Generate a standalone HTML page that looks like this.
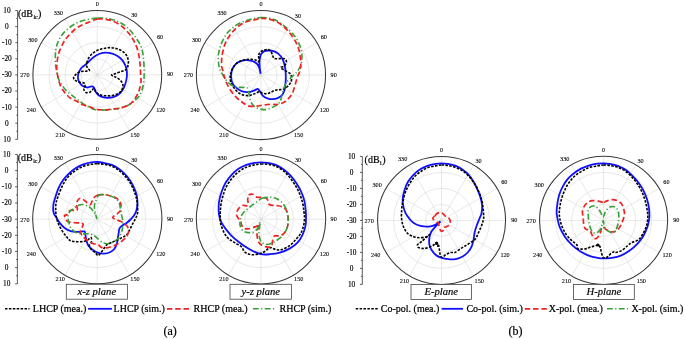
<!DOCTYPE html>
<html><head><meta charset="utf-8"><style>
html,body{margin:0;padding:0;background:#fff;width:685px;height:339px;overflow:hidden;font-family:"Liberation Serif", serif;}
svg{display:block;will-change:transform}
</style></head><body>
<svg width="685" height="339" viewBox="0 0 685 339"><rect width="685" height="339" fill="#fff"/><g stroke="#d9d9d9" stroke-width="0.6" fill="none"><line x1="97.30" y1="74.90" x2="97.30" y2="10.50"/><line x1="97.30" y1="74.90" x2="129.50" y2="19.13"/><line x1="97.30" y1="74.90" x2="153.07" y2="42.70"/><line x1="97.30" y1="74.90" x2="161.70" y2="74.90"/><line x1="97.30" y1="74.90" x2="153.07" y2="107.10"/><line x1="97.30" y1="74.90" x2="129.50" y2="130.67"/><line x1="97.30" y1="74.90" x2="97.30" y2="139.30"/><line x1="97.30" y1="74.90" x2="65.10" y2="130.67"/><line x1="97.30" y1="74.90" x2="41.53" y2="107.10"/><line x1="97.30" y1="74.90" x2="32.90" y2="74.90"/><line x1="97.30" y1="74.90" x2="41.53" y2="42.70"/><line x1="97.30" y1="74.90" x2="65.10" y2="19.13"/><circle cx="97.30" cy="74.90" r="16.10"/><circle cx="97.30" cy="74.90" r="32.20"/><circle cx="97.30" cy="74.90" r="48.30"/></g><g stroke="#d9d9d9" stroke-width="0.6" fill="none"><line x1="260.95" y1="75.00" x2="260.95" y2="10.40"/><line x1="260.95" y1="75.00" x2="293.25" y2="19.05"/><line x1="260.95" y1="75.00" x2="316.90" y2="42.70"/><line x1="260.95" y1="75.00" x2="325.55" y2="75.00"/><line x1="260.95" y1="75.00" x2="316.90" y2="107.30"/><line x1="260.95" y1="75.00" x2="293.25" y2="130.95"/><line x1="260.95" y1="75.00" x2="260.95" y2="139.60"/><line x1="260.95" y1="75.00" x2="228.65" y2="130.95"/><line x1="260.95" y1="75.00" x2="205.00" y2="107.30"/><line x1="260.95" y1="75.00" x2="196.35" y2="75.00"/><line x1="260.95" y1="75.00" x2="205.00" y2="42.70"/><line x1="260.95" y1="75.00" x2="228.65" y2="19.05"/><circle cx="260.95" cy="75.00" r="16.15"/><circle cx="260.95" cy="75.00" r="32.30"/><circle cx="260.95" cy="75.00" r="48.45"/></g><g stroke="#d9d9d9" stroke-width="0.6" fill="none"><line x1="97.30" y1="219.15" x2="97.30" y2="154.50"/><line x1="97.30" y1="219.15" x2="129.62" y2="163.16"/><line x1="97.30" y1="219.15" x2="153.29" y2="186.82"/><line x1="97.30" y1="219.15" x2="161.95" y2="219.15"/><line x1="97.30" y1="219.15" x2="153.29" y2="251.47"/><line x1="97.30" y1="219.15" x2="129.62" y2="275.14"/><line x1="97.30" y1="219.15" x2="97.30" y2="283.80"/><line x1="97.30" y1="219.15" x2="64.97" y2="275.14"/><line x1="97.30" y1="219.15" x2="41.31" y2="251.48"/><line x1="97.30" y1="219.15" x2="32.65" y2="219.15"/><line x1="97.30" y1="219.15" x2="41.31" y2="186.82"/><line x1="97.30" y1="219.15" x2="64.97" y2="163.16"/><circle cx="97.30" cy="219.15" r="16.16"/><circle cx="97.30" cy="219.15" r="32.33"/><circle cx="97.30" cy="219.15" r="48.49"/></g><g stroke="#d9d9d9" stroke-width="0.6" fill="none"><line x1="261.00" y1="219.20" x2="261.00" y2="154.50"/><line x1="261.00" y1="219.20" x2="293.35" y2="163.17"/><line x1="261.00" y1="219.20" x2="317.03" y2="186.85"/><line x1="261.00" y1="219.20" x2="325.70" y2="219.20"/><line x1="261.00" y1="219.20" x2="317.03" y2="251.55"/><line x1="261.00" y1="219.20" x2="293.35" y2="275.23"/><line x1="261.00" y1="219.20" x2="261.00" y2="283.90"/><line x1="261.00" y1="219.20" x2="228.65" y2="275.23"/><line x1="261.00" y1="219.20" x2="204.97" y2="251.55"/><line x1="261.00" y1="219.20" x2="196.30" y2="219.20"/><line x1="261.00" y1="219.20" x2="204.97" y2="186.85"/><line x1="261.00" y1="219.20" x2="228.65" y2="163.17"/><circle cx="261.00" cy="219.20" r="16.18"/><circle cx="261.00" cy="219.20" r="32.35"/><circle cx="261.00" cy="219.20" r="48.53"/></g><g stroke="#d9d9d9" stroke-width="0.6" fill="none"><line x1="441.55" y1="220.40" x2="441.55" y2="156.40"/><line x1="441.55" y1="220.40" x2="473.55" y2="164.97"/><line x1="441.55" y1="220.40" x2="496.98" y2="188.40"/><line x1="441.55" y1="220.40" x2="505.55" y2="220.40"/><line x1="441.55" y1="220.40" x2="496.98" y2="252.40"/><line x1="441.55" y1="220.40" x2="473.55" y2="275.83"/><line x1="441.55" y1="220.40" x2="441.55" y2="284.40"/><line x1="441.55" y1="220.40" x2="409.55" y2="275.83"/><line x1="441.55" y1="220.40" x2="386.12" y2="252.40"/><line x1="441.55" y1="220.40" x2="377.55" y2="220.40"/><line x1="441.55" y1="220.40" x2="386.12" y2="188.40"/><line x1="441.55" y1="220.40" x2="409.55" y2="164.97"/><circle cx="441.55" cy="220.40" r="16.00"/><circle cx="441.55" cy="220.40" r="32.00"/><circle cx="441.55" cy="220.40" r="48.00"/></g><g stroke="#d9d9d9" stroke-width="0.6" fill="none"><line x1="603.60" y1="220.40" x2="603.60" y2="156.35"/><line x1="603.60" y1="220.40" x2="635.62" y2="164.93"/><line x1="603.60" y1="220.40" x2="659.07" y2="188.38"/><line x1="603.60" y1="220.40" x2="667.65" y2="220.40"/><line x1="603.60" y1="220.40" x2="659.07" y2="252.42"/><line x1="603.60" y1="220.40" x2="635.62" y2="275.87"/><line x1="603.60" y1="220.40" x2="603.60" y2="284.45"/><line x1="603.60" y1="220.40" x2="571.58" y2="275.87"/><line x1="603.60" y1="220.40" x2="548.13" y2="252.43"/><line x1="603.60" y1="220.40" x2="539.55" y2="220.40"/><line x1="603.60" y1="220.40" x2="548.13" y2="188.38"/><line x1="603.60" y1="220.40" x2="571.58" y2="164.93"/><circle cx="603.60" cy="220.40" r="16.01"/><circle cx="603.60" cy="220.40" r="32.02"/><circle cx="603.60" cy="220.40" r="48.04"/></g><circle cx="97.30" cy="74.90" r="64.40" fill="none" stroke="#383838" stroke-width="1.05"/><g font-family='"Liberation Serif", serif' font-size="6.2" fill="#000" stroke="#000" stroke-width="0.1" text-anchor="middle"><text x="97.30" y="6.25">0</text><text x="134.30" y="17.45">30</text><text x="160.10" y="38.85">60</text><text x="170.00" y="76.45">90</text><text x="160.80" y="111.65">120</text><text x="135.00" y="137.15">150</text><text x="60.20" y="137.15">210</text><text x="31.40" y="111.65">240</text><text x="24.85" y="77.25">270</text><text x="32.90" y="41.55">300</text><text x="58.40" y="15.35">330</text></g><circle cx="260.95" cy="75.00" r="64.60" fill="none" stroke="#383838" stroke-width="1.05"/><g font-family='"Liberation Serif", serif' font-size="6.2" fill="#000" stroke="#000" stroke-width="0.1" text-anchor="middle"><text x="260.95" y="6.35">0</text><text x="297.95" y="17.55">30</text><text x="323.75" y="38.95">60</text><text x="333.65" y="76.55">90</text><text x="324.45" y="111.75">120</text><text x="298.65" y="137.25">150</text><text x="223.85" y="137.25">210</text><text x="195.05" y="111.75">240</text><text x="188.50" y="77.35">270</text><text x="196.55" y="41.65">300</text><text x="222.05" y="15.45">330</text></g><circle cx="97.30" cy="219.15" r="64.65" fill="none" stroke="#383838" stroke-width="1.05"/><g font-family='"Liberation Serif", serif' font-size="6.2" fill="#000" stroke="#000" stroke-width="0.1" text-anchor="middle"><text x="97.30" y="150.50">0</text><text x="134.30" y="161.70">30</text><text x="160.10" y="183.10">60</text><text x="170.00" y="220.70">90</text><text x="160.80" y="255.90">120</text><text x="135.00" y="281.40">150</text><text x="97.30" y="294.40">0</text><text x="60.20" y="281.40">210</text><text x="31.40" y="255.90">240</text><text x="24.85" y="221.50">270</text><text x="32.90" y="185.80">300</text><text x="58.40" y="159.60">330</text></g><circle cx="261.00" cy="219.20" r="64.70" fill="none" stroke="#383838" stroke-width="1.05"/><g font-family='"Liberation Serif", serif' font-size="6.2" fill="#000" stroke="#000" stroke-width="0.1" text-anchor="middle"><text x="261.00" y="150.55">0</text><text x="298.00" y="161.75">30</text><text x="323.80" y="183.15">60</text><text x="333.70" y="220.75">90</text><text x="324.50" y="255.95">120</text><text x="298.70" y="281.45">150</text><text x="261.00" y="294.45">0</text><text x="223.90" y="281.45">210</text><text x="195.10" y="255.95">240</text><text x="188.55" y="221.55">270</text><text x="196.60" y="185.85">300</text><text x="222.10" y="159.65">330</text></g><circle cx="441.55" cy="220.40" r="64.00" fill="none" stroke="#383838" stroke-width="1.05"/><g font-family='"Liberation Serif", serif' font-size="6.2" fill="#000" stroke="#000" stroke-width="0.1" text-anchor="middle"><text x="441.55" y="151.75">0</text><text x="478.55" y="162.95">30</text><text x="504.35" y="184.35">60</text><text x="514.25" y="221.95">90</text><text x="505.05" y="257.15">120</text><text x="479.25" y="282.65">150</text><text x="441.55" y="295.65">0</text><text x="404.45" y="282.65">210</text><text x="375.65" y="257.15">240</text><text x="369.10" y="222.75">270</text><text x="377.15" y="187.05">300</text><text x="402.65" y="160.85">330</text></g><circle cx="603.60" cy="220.40" r="64.05" fill="none" stroke="#383838" stroke-width="1.05"/><g font-family='"Liberation Serif", serif' font-size="6.2" fill="#000" stroke="#000" stroke-width="0.1" text-anchor="middle"><text x="603.60" y="151.75">0</text><text x="640.60" y="162.95">30</text><text x="666.40" y="184.35">60</text><text x="676.30" y="221.95">90</text><text x="667.10" y="257.15">120</text><text x="641.30" y="282.65">150</text><text x="603.60" y="295.65">0</text><text x="566.50" y="282.65">210</text><text x="537.70" y="257.15">240</text><text x="531.15" y="222.75">270</text><text x="539.20" y="187.05">300</text><text x="564.70" y="160.85">330</text></g><path d="M86.81,63.58C88.14,62.40 89.62,60.55 91.24,59.16C92.86,57.77 94.63,56.30 96.55,55.27C98.47,54.23 100.68,53.35 102.74,52.96C104.81,52.58 106.87,52.67 108.94,52.96C111.00,53.26 113.22,53.85 115.13,54.73C117.05,55.62 118.97,56.95 120.44,58.27C121.92,59.60 123.01,61.08 123.98,62.70C124.96,64.32 125.78,66.09 126.28,68.01C126.78,69.93 126.99,72.14 126.99,74.20C126.99,76.27 126.78,78.19 126.28,80.40C125.78,82.61 124.96,85.41 123.98,87.48C123.01,89.54 121.92,91.31 120.44,92.79C118.97,94.26 117.05,95.50 115.13,96.33C113.22,97.15 111.00,97.60 108.94,97.74C106.87,97.89 104.51,97.68 102.74,97.21C100.97,96.74 99.50,95.80 98.32,94.91C97.14,94.03 96.31,92.99 95.66,91.90C95.01,90.81 94.87,89.25 94.42,88.36C93.98,87.48 93.69,86.89 93.01,86.59C92.33,86.30 91.39,86.45 90.35,86.59C89.32,86.74 88.14,87.63 86.81,87.48C85.49,87.33 83.66,86.59 82.39,85.71C81.12,84.82 79.94,83.50 79.20,82.17C78.47,80.84 78.08,79.22 77.96,77.74C77.85,76.27 78.05,74.79 78.50,73.32C78.94,71.84 79.82,70.07 80.62,68.89C81.42,67.71 82.24,67.12 83.27,66.24C84.31,65.35 85.49,64.76 86.81,63.58Z" fill="none" stroke="#1010ff" stroke-width="1.8" stroke-linejoin="round"/><path d="M86.81,62.70C87.20,61.52 87.70,59.75 88.58,58.27C89.47,56.80 90.65,55.18 92.12,53.85C93.60,52.52 95.52,51.19 97.43,50.31C99.35,49.42 101.56,48.98 103.63,48.54C105.69,48.10 107.76,47.65 109.82,47.65C111.89,47.65 113.95,47.95 116.02,48.54C118.08,49.13 120.44,50.01 122.21,51.19C123.98,52.37 125.60,53.85 126.64,55.62C127.67,57.39 128.41,59.60 128.41,61.81C128.41,64.03 127.82,67.27 126.64,68.89C125.46,70.52 123.24,70.75 121.33,71.55C119.41,72.35 116.76,73.08 115.13,73.67C113.51,74.26 111.59,74.56 111.59,75.09C111.59,75.62 113.81,76.12 115.13,76.86C116.46,77.60 118.29,78.33 119.56,79.51C120.83,80.69 122.30,82.32 122.74,83.94C123.19,85.56 122.89,87.71 122.21,89.25C121.53,90.78 120.29,92.11 118.67,93.14C117.05,94.17 114.69,95.00 112.48,95.44C110.27,95.88 107.61,95.94 105.40,95.80C103.19,95.65 100.83,95.29 99.20,94.56C97.58,93.82 96.55,92.40 95.66,91.37C94.78,90.34 94.48,88.57 93.89,88.36C93.30,88.16 92.86,89.45 92.12,90.13C91.39,90.81 90.50,92.05 89.47,92.43C88.44,92.82 86.87,92.96 85.93,92.43C84.99,91.90 83.95,90.37 83.81,89.25C83.66,88.13 84.99,86.74 85.04,85.71C85.10,84.68 85.04,83.64 84.16,83.05C83.27,82.46 81.21,82.61 79.73,82.17C78.26,81.73 76.34,81.14 75.31,80.40C74.28,79.66 73.39,78.78 73.54,77.74C73.69,76.71 75.01,75.24 76.19,74.20C77.37,73.17 79.00,72.05 80.62,71.55C82.24,71.05 84.45,71.40 85.93,71.19C87.40,70.99 89.17,70.84 89.47,70.31C89.76,69.78 88.23,68.83 87.70,68.01C87.17,67.18 86.43,66.24 86.28,65.35C86.14,64.47 86.43,63.88 86.81,62.70Z" fill="none" stroke="#000" stroke-width="1.6" stroke-dasharray="2.5 1.4" stroke-linejoin="round"/><path d="M97.40,18.10C100.12,17.93 102.27,18.03 104.80,18.30C107.33,18.57 110.00,18.97 112.60,19.70C115.20,20.43 118.13,21.57 120.40,22.70C122.67,23.83 124.27,24.88 126.20,26.50C128.13,28.12 130.22,30.28 132.00,32.40C133.78,34.52 135.43,36.93 136.90,39.20C138.37,41.47 139.82,43.73 140.80,46.00C141.78,48.27 142.32,50.37 142.80,52.80C143.28,55.23 143.48,58.00 143.70,60.60C143.92,63.20 144.03,65.83 144.10,68.40C144.17,70.97 144.17,73.77 144.10,76.00C144.03,78.23 144.02,79.53 143.70,81.80C143.38,84.07 143.00,87.17 142.20,89.60C141.40,92.03 140.27,94.45 138.90,96.40C137.53,98.35 135.78,99.83 134.00,101.30C132.22,102.77 130.47,104.07 128.20,105.20C125.93,106.33 123.00,107.40 120.40,108.10C117.80,108.80 115.20,109.08 112.60,109.40C110.00,109.72 107.33,109.90 104.80,110.00C102.27,110.10 99.47,110.22 97.40,110.00C95.33,109.78 94.38,109.50 92.40,108.70C90.42,107.90 88.00,106.73 85.50,105.20C83.00,103.67 79.70,101.17 77.40,99.50C75.10,97.83 73.58,96.72 71.70,95.20C69.82,93.68 67.85,92.28 66.10,90.40C64.35,88.52 62.55,86.07 61.20,83.90C59.85,81.73 58.75,79.57 58.00,77.40C57.25,75.23 57.12,73.07 56.70,70.90C56.28,68.73 55.72,67.08 55.50,64.40C55.28,61.72 55.27,57.70 55.40,54.80C55.53,51.90 55.65,49.60 56.30,47.00C56.95,44.40 58.00,41.63 59.30,39.20C60.60,36.77 62.17,34.52 64.10,32.40C66.03,30.28 68.47,28.22 70.90,26.50C73.33,24.78 75.77,23.30 78.70,22.10C81.63,20.90 85.38,19.97 88.50,19.30C91.62,18.63 94.68,18.27 97.40,18.10Z" fill="none" stroke="#35a035" stroke-width="1.6" stroke-dasharray="5.8 2.4 1.2 2.4" stroke-linejoin="round"/><path d="M97.40,19.00C99.80,18.60 102.27,18.95 104.80,19.30C107.33,19.65 110.00,20.12 112.60,21.10C115.20,22.08 118.13,23.65 120.40,25.20C122.67,26.75 124.42,28.55 126.20,30.40C127.98,32.25 129.63,34.18 131.10,36.30C132.57,38.42 133.87,40.67 135.00,43.10C136.13,45.53 137.17,48.30 137.90,50.90C138.63,53.50 139.02,56.10 139.40,58.70C139.78,61.30 140.00,63.95 140.20,66.50C140.40,69.05 140.47,71.45 140.60,74.00C140.73,76.55 141.20,79.20 141.00,81.80C140.80,84.40 140.08,87.33 139.40,89.60C138.72,91.87 137.97,93.45 136.90,95.40C135.83,97.35 134.45,99.67 133.00,101.30C131.55,102.93 130.30,104.07 128.20,105.20C126.10,106.33 123.00,107.47 120.40,108.10C117.80,108.73 115.20,108.68 112.60,109.00C110.00,109.32 107.33,109.92 104.80,110.00C102.27,110.08 99.15,109.72 97.40,109.50C95.65,109.28 95.63,109.17 94.30,108.70C92.97,108.23 91.35,107.35 89.40,106.70C87.45,106.05 84.70,105.70 82.60,104.80C80.50,103.90 78.82,102.40 76.80,101.30C74.78,100.20 72.22,99.32 70.50,98.20C68.78,97.08 67.65,95.80 66.50,94.60C65.35,93.40 64.62,92.52 63.60,91.00C62.58,89.48 61.33,87.77 60.40,85.50C59.47,83.23 58.62,80.10 58.00,77.40C57.38,74.70 56.83,72.00 56.70,69.30C56.57,66.60 56.85,63.90 57.20,61.20C57.55,58.50 57.80,56.12 58.80,53.10C59.80,50.08 61.67,45.90 63.20,43.10C64.73,40.30 66.07,38.57 68.00,36.30C69.93,34.03 72.37,31.45 74.80,29.50C77.23,27.55 80.00,25.90 82.60,24.60C85.20,23.30 87.93,22.63 90.40,21.70C92.87,20.77 95.00,19.40 97.40,19.00Z" fill="none" stroke="#ee2222" stroke-width="1.7" stroke-dasharray="5.4 2.9" stroke-linejoin="round"/><path d="M260.60,73.80C260.45,72.68 259.87,69.32 259.70,67.10C259.53,64.88 259.40,62.58 259.60,60.50C259.80,58.42 260.18,56.12 260.90,54.60C261.62,53.08 262.62,52.08 263.90,51.40C265.18,50.72 267.00,50.53 268.60,50.50C270.20,50.47 271.85,50.63 273.50,51.20C275.15,51.77 277.00,52.60 278.50,53.90C280.00,55.20 281.47,57.10 282.50,59.00C283.53,60.90 284.18,63.13 284.70,65.30C285.22,67.47 285.42,69.72 285.60,72.00C285.78,74.28 285.85,76.85 285.80,79.00C285.75,81.15 285.53,82.97 285.30,84.90C285.07,86.83 284.93,88.90 284.40,90.60C283.87,92.30 283.23,93.83 282.10,95.10C280.97,96.37 279.20,97.52 277.60,98.20C276.00,98.88 274.22,99.18 272.50,99.20C270.78,99.22 268.90,98.87 267.30,98.30C265.70,97.73 264.13,96.95 262.90,95.80C261.67,94.65 260.77,92.55 259.90,91.40C259.03,90.25 258.68,89.03 257.70,88.90C256.72,88.77 255.60,90.05 254.00,90.60C252.40,91.15 250.18,92.10 248.10,92.20C246.02,92.30 243.58,92.03 241.50,91.20C239.42,90.37 237.15,88.65 235.60,87.20C234.05,85.75 232.93,84.20 232.20,82.50C231.47,80.80 231.30,78.83 231.20,77.00C231.10,75.17 231.27,73.08 231.60,71.50C231.93,69.92 232.47,68.78 233.20,67.50C233.93,66.22 234.87,64.82 236.00,63.80C237.13,62.78 238.47,62.00 240.00,61.40C241.53,60.80 243.47,60.33 245.20,60.20C246.93,60.07 248.80,60.28 250.40,60.60C252.00,60.92 253.58,61.43 254.80,62.10C256.02,62.77 256.93,63.57 257.70,64.60C258.47,65.63 258.92,66.77 259.40,68.30C259.88,69.83 260.40,72.88 260.60,73.80" fill="none" stroke="#1010ff" stroke-width="1.8" stroke-linejoin="round"/><path d="M258.70,55.00C259.05,53.35 260.03,52.40 260.90,51.60C261.77,50.80 262.73,50.55 263.90,50.20C265.07,49.85 266.73,49.32 267.90,49.50C269.07,49.68 270.08,50.22 270.90,51.30C271.72,52.38 272.20,54.78 272.80,56.00C273.40,57.22 273.33,58.17 274.50,58.60C275.67,59.03 278.10,58.57 279.80,58.60C281.50,58.63 283.58,58.17 284.70,58.80C285.82,59.43 286.67,61.15 286.50,62.40C286.33,63.65 284.65,65.43 283.70,66.30C282.75,67.17 280.63,66.93 280.80,67.60C280.97,68.27 283.23,69.37 284.70,70.30C286.17,71.23 288.48,72.17 289.60,73.20C290.72,74.23 291.13,75.17 291.40,76.50C291.67,77.83 291.60,79.80 291.20,81.20C290.80,82.60 290.03,83.70 289.00,84.90C287.97,86.10 286.40,87.62 285.00,88.40C283.60,89.18 282.20,89.30 280.60,89.60C279.00,89.90 277.00,89.78 275.40,90.20C273.80,90.62 272.35,91.53 271.00,92.10C269.65,92.67 268.65,93.40 267.30,93.60C265.95,93.80 264.25,93.60 262.90,93.30C261.55,93.00 260.80,91.63 259.20,91.80C257.60,91.97 255.27,93.67 253.30,94.30C251.33,94.93 249.62,95.72 247.40,95.60C245.18,95.48 242.22,94.87 240.00,93.60C237.78,92.33 235.63,89.93 234.10,88.00C232.57,86.07 231.45,84.00 230.80,82.00C230.15,80.00 230.13,77.63 230.20,76.00C230.27,74.37 230.67,73.73 231.20,72.20C231.73,70.67 232.30,68.43 233.40,66.80C234.50,65.17 236.08,63.53 237.80,62.40C239.52,61.27 241.73,60.52 243.70,60.00C245.67,59.48 247.63,59.30 249.60,59.30C251.57,59.30 253.97,59.63 255.50,60.00C257.03,60.37 258.27,62.33 258.80,61.50C259.33,60.67 258.35,56.65 258.70,55.00Z" fill="none" stroke="#000" stroke-width="1.6" stroke-dasharray="2.5 1.4" stroke-linejoin="round"/><path d="M261.00,17.50C263.27,17.40 265.43,17.43 267.90,17.90C270.37,18.37 273.33,19.15 275.80,20.30C278.27,21.45 280.55,23.22 282.70,24.80C284.85,26.38 286.88,28.15 288.70,29.80C290.52,31.45 292.13,32.90 293.60,34.70C295.07,36.50 296.35,38.47 297.50,40.60C298.65,42.73 299.77,45.18 300.50,47.50C301.23,49.82 301.73,52.02 301.90,54.50C302.07,56.98 301.95,60.07 301.50,62.40C301.05,64.73 300.12,66.73 299.20,68.50C298.28,70.27 297.13,71.72 296.00,73.00C294.87,74.28 293.87,74.77 292.40,76.20C290.93,77.63 288.60,79.68 287.20,81.60C285.80,83.52 284.87,85.47 284.00,87.70C283.13,89.93 282.67,92.70 282.00,95.00C281.33,97.30 280.88,99.80 280.00,101.50C279.12,103.20 278.23,104.12 276.70,105.20C275.17,106.28 272.92,107.27 270.80,108.00C268.68,108.73 266.30,109.60 264.00,109.60C261.70,109.60 258.92,108.85 257.00,108.00C255.08,107.15 253.62,105.83 252.50,104.50C251.38,103.17 250.90,101.82 250.30,100.00C249.70,98.18 249.38,95.60 248.90,93.60C248.42,91.60 248.63,89.03 247.40,88.00C246.17,86.97 243.58,87.60 241.50,87.40C239.42,87.20 237.12,87.62 234.90,86.80C232.68,85.98 230.10,84.30 228.20,82.50C226.30,80.70 224.68,77.75 223.50,76.00C222.32,74.25 221.77,73.33 221.10,72.00C220.43,70.67 219.90,69.28 219.50,68.00C219.10,66.72 218.90,66.23 218.70,64.30C218.50,62.37 218.13,59.03 218.30,56.40C218.47,53.77 218.97,51.13 219.70,48.50C220.43,45.87 221.55,43.07 222.70,40.60C223.85,38.13 225.12,35.67 226.60,33.70C228.08,31.73 229.62,30.45 231.60,28.80C233.58,27.15 236.03,25.18 238.50,23.80C240.97,22.42 243.77,21.38 246.40,20.50C249.03,19.62 251.87,19.00 254.30,18.50C256.73,18.00 258.73,17.60 261.00,17.50Z" fill="none" stroke="#35a035" stroke-width="1.6" stroke-dasharray="5.8 2.4 1.2 2.4" stroke-linejoin="round"/><path d="M261.00,18.50C263.27,18.33 265.43,18.40 267.90,18.90C270.37,19.40 273.33,20.35 275.80,21.50C278.27,22.65 280.72,24.27 282.70,25.80C284.68,27.33 286.05,28.88 287.70,30.70C289.35,32.52 291.12,34.55 292.60,36.70C294.08,38.85 295.52,41.30 296.60,43.60C297.68,45.90 298.45,48.03 299.10,50.50C299.75,52.97 300.22,55.77 300.50,58.40C300.78,61.03 300.97,64.03 300.80,66.30C300.63,68.57 300.07,70.22 299.50,72.00C298.93,73.78 298.00,75.32 297.40,77.00C296.80,78.68 296.43,80.27 295.90,82.10C295.37,83.93 294.82,86.03 294.20,88.00C293.58,89.97 293.02,92.30 292.20,93.90C291.38,95.50 290.40,96.37 289.30,97.60C288.20,98.83 286.95,100.32 285.60,101.30C284.25,102.28 282.80,102.97 281.20,103.50C279.60,104.03 277.73,104.38 276.00,104.50C274.27,104.62 272.87,104.12 270.80,104.20C268.73,104.28 266.03,104.68 263.60,105.00C261.17,105.32 258.65,105.92 256.20,106.10C253.75,106.28 251.35,106.83 248.90,106.10C246.45,105.37 243.97,103.53 241.50,101.70C239.03,99.87 236.32,97.68 234.10,95.10C231.88,92.52 229.80,89.15 228.20,86.20C226.60,83.25 225.42,80.10 224.50,77.40C223.58,74.70 223.17,71.85 222.70,70.00C222.23,68.15 221.87,68.23 221.70,66.30C221.53,64.37 221.47,61.03 221.70,58.40C221.93,55.77 222.45,53.13 223.10,50.50C223.75,47.87 224.52,45.07 225.60,42.60C226.68,40.13 228.12,37.83 229.60,35.70C231.08,33.57 232.68,31.62 234.50,29.80C236.32,27.98 238.52,26.13 240.50,24.80C242.48,23.47 244.10,22.62 246.40,21.80C248.70,20.98 251.87,20.45 254.30,19.90C256.73,19.35 258.73,18.67 261.00,18.50Z" fill="none" stroke="#ee2222" stroke-width="1.7" stroke-dasharray="5.4 2.9" stroke-linejoin="round"/><path d="M97.20,162.00C99.30,162.10 101.47,162.42 103.90,162.90C106.33,163.38 109.33,163.92 111.80,164.90C114.27,165.88 116.55,167.32 118.70,168.80C120.85,170.28 122.88,171.98 124.70,173.80C126.52,175.62 128.13,177.57 129.60,179.70C131.07,181.83 132.35,184.13 133.50,186.60C134.65,189.07 135.83,191.87 136.50,194.50C137.17,197.13 137.50,199.77 137.50,202.40C137.50,205.03 137.08,208.12 136.50,210.30C135.92,212.48 135.00,213.97 134.00,215.50C133.00,217.03 131.73,218.27 130.50,219.50C129.27,220.73 128.07,221.83 126.60,222.90C125.13,223.97 122.92,224.90 121.70,225.90C120.48,226.90 119.80,227.75 119.30,228.90C118.80,230.05 118.92,231.45 118.70,232.80C118.48,234.15 118.28,235.30 118.00,237.00C117.72,238.70 117.58,241.03 117.00,243.00C116.42,244.97 115.67,247.27 114.50,248.80C113.33,250.33 111.75,251.40 110.00,252.20C108.25,253.00 106.08,253.53 104.00,253.60C101.92,253.67 99.42,253.27 97.50,252.60C95.58,251.93 94.03,250.78 92.50,249.60C90.97,248.42 89.35,247.10 88.30,245.50C87.25,243.90 86.68,241.78 86.20,240.00C85.72,238.22 85.70,236.23 85.40,234.80C85.10,233.37 85.40,231.90 84.40,231.40C83.40,230.90 81.55,231.80 79.40,231.80C77.25,231.80 73.97,232.05 71.50,231.40C69.03,230.75 66.57,229.32 64.60,227.90C62.63,226.48 61.02,224.55 59.70,222.90C58.38,221.25 57.70,219.65 56.70,218.00C55.70,216.35 54.27,215.10 53.70,213.00C53.13,210.90 53.03,207.98 53.30,205.40C53.57,202.82 54.47,200.30 55.30,197.50C56.13,194.70 57.08,191.40 58.30,188.60C59.52,185.80 60.88,183.17 62.60,180.70C64.32,178.23 66.45,175.88 68.60,173.80C70.75,171.72 73.03,169.78 75.50,168.20C77.97,166.62 80.77,165.28 83.40,164.30C86.03,163.32 89.00,162.68 91.30,162.30C93.60,161.92 95.10,161.90 97.20,162.00Z" fill="none" stroke="#1010ff" stroke-width="1.8" stroke-linejoin="round"/><path d="M97.20,163.70C99.30,163.70 101.47,163.87 103.90,164.30C106.33,164.73 109.33,165.32 111.80,166.30C114.27,167.28 116.55,168.63 118.70,170.20C120.85,171.77 122.82,173.62 124.70,175.70C126.58,177.78 128.47,180.22 130.00,182.70C131.53,185.18 132.82,187.97 133.90,190.60C134.98,193.23 135.90,196.03 136.50,198.50C137.10,200.97 137.33,202.93 137.50,205.40C137.67,207.87 137.83,211.12 137.50,213.30C137.17,215.48 136.32,216.73 135.50,218.50C134.68,220.27 133.58,222.00 132.60,223.90C131.62,225.80 130.60,228.08 129.60,229.90C128.60,231.72 127.92,233.48 126.60,234.80C125.28,236.12 123.50,236.82 121.70,237.80C119.90,238.78 117.62,239.88 115.80,240.70C113.98,241.52 112.28,242.03 110.80,242.70C109.32,243.37 108.05,243.72 106.90,244.70C105.75,245.68 104.90,247.28 103.90,248.60C102.90,249.92 101.88,251.45 100.90,252.60C99.92,253.75 98.95,255.50 98.00,255.50C97.05,255.50 96.32,253.58 95.20,252.60C94.08,251.62 92.28,250.75 91.30,249.60C90.32,248.45 89.30,246.85 89.30,245.70C89.30,244.55 90.97,244.02 91.30,242.70C91.63,241.38 91.63,238.45 91.30,237.80C90.97,237.15 90.45,238.22 89.30,238.80C88.15,239.38 86.37,240.82 84.40,241.30C82.43,241.78 79.82,241.80 77.50,241.70C75.18,241.60 72.32,241.52 70.50,240.70C68.68,239.88 68.08,238.60 66.60,236.80C65.12,235.00 63.08,232.37 61.60,229.90C60.12,227.43 58.62,224.48 57.70,222.00C56.78,219.52 56.43,217.33 56.10,215.00C55.77,212.67 55.70,210.00 55.70,208.00C55.70,206.00 55.77,204.75 56.10,203.00C56.43,201.25 56.93,199.73 57.70,197.50C58.47,195.27 59.55,192.23 60.70,189.60C61.85,186.97 63.13,184.08 64.60,181.70C66.07,179.32 67.52,177.28 69.50,175.30C71.48,173.32 74.18,171.30 76.50,169.80C78.82,168.30 80.93,167.22 83.40,166.30C85.87,165.38 89.00,164.73 91.30,164.30C93.60,163.87 95.10,163.70 97.20,163.70Z" fill="none" stroke="#000" stroke-width="1.6" stroke-dasharray="2.5 1.4" stroke-linejoin="round"/><path d="M97.40,195.30C98.77,194.80 100.53,194.75 102.10,194.70C103.67,194.65 105.03,194.70 106.80,195.00C108.57,195.30 110.93,195.87 112.70,196.50C114.47,197.13 116.12,197.82 117.40,198.80C118.68,199.78 119.80,201.12 120.40,202.40C121.00,203.68 121.00,205.13 121.00,206.50C121.00,207.87 121.00,209.42 120.40,210.60C119.80,211.78 118.48,212.70 117.40,213.60C116.32,214.50 114.68,215.32 113.90,216.00C113.12,216.68 112.42,217.12 112.70,217.70C112.98,218.28 114.32,218.90 115.60,219.50C116.88,220.10 118.92,220.62 120.40,221.30C121.88,221.98 123.30,222.67 124.50,223.60C125.70,224.53 126.92,225.53 127.60,226.90C128.28,228.27 128.93,229.98 128.60,231.80C128.27,233.62 127.08,235.98 125.60,237.80C124.12,239.62 121.67,241.38 119.70,242.70C117.73,244.02 115.77,244.88 113.80,245.70C111.83,246.52 109.88,247.28 107.90,247.60C105.92,247.92 103.52,248.08 101.90,247.60C100.28,247.12 99.63,245.35 98.20,244.70C96.77,244.05 95.12,244.37 93.30,243.70C91.48,243.03 89.12,242.02 87.30,240.70C85.48,239.38 83.55,237.28 82.40,235.80C81.25,234.32 80.45,233.23 80.40,231.80C80.35,230.37 81.63,228.47 82.10,227.20C82.57,225.93 83.40,224.90 83.20,224.20C83.00,223.50 82.07,223.23 80.90,223.00C79.73,222.77 77.78,222.90 76.20,222.80C74.62,222.70 72.88,222.65 71.40,222.40C69.92,222.15 68.28,221.98 67.30,221.30C66.32,220.62 65.98,219.28 65.50,218.30C65.02,217.32 64.20,215.98 64.40,215.40C64.60,214.82 65.92,215.50 66.70,214.80C67.48,214.10 68.32,211.98 69.10,211.20C69.88,210.42 70.32,210.20 71.40,210.10C72.48,210.00 74.62,210.70 75.60,210.60C76.58,210.50 77.12,210.48 77.30,209.50C77.48,208.52 76.70,206.08 76.70,204.70C76.70,203.32 76.80,202.23 77.30,201.20C77.80,200.17 78.72,198.80 79.70,198.50C80.68,198.20 82.02,198.75 83.20,199.40C84.38,200.05 85.62,201.52 86.80,202.40C87.98,203.28 89.42,204.90 90.30,204.70C91.18,204.50 91.50,202.37 92.10,201.20C92.70,200.03 93.02,198.68 93.90,197.70C94.78,196.72 96.03,195.80 97.40,195.30Z" fill="none" stroke="#ee2222" stroke-width="1.7" stroke-dasharray="5.4 2.9" stroke-linejoin="round"/><path d="M98.50,195.30C99.97,194.12 102.43,194.60 104.40,194.70C106.37,194.80 108.43,195.30 110.30,195.90C112.17,196.50 114.12,197.12 115.60,198.30C117.08,199.48 118.40,201.23 119.20,203.00C120.00,204.77 120.02,206.93 120.40,208.90C120.78,210.87 121.12,212.93 121.50,214.80C121.88,216.67 122.50,218.25 122.70,220.10C122.90,221.95 122.87,223.95 122.70,225.90C122.53,227.85 122.37,229.82 121.70,231.80C121.03,233.78 120.02,236.15 118.70,237.80C117.38,239.45 115.60,240.72 113.80,241.70C112.00,242.68 109.72,243.53 107.90,243.70C106.08,243.87 104.55,243.52 102.90,242.70C101.25,241.88 99.43,239.95 98.00,238.80C96.57,237.65 95.75,236.63 94.30,235.80C92.85,234.97 91.12,234.13 89.30,233.80C87.48,233.47 85.53,233.97 83.40,233.80C81.27,233.63 78.50,233.62 76.50,232.80C74.50,231.98 72.53,230.13 71.40,228.90C70.27,227.67 70.18,226.67 69.70,225.40C69.22,224.13 68.80,222.68 68.50,221.30C68.20,219.92 67.90,218.38 67.90,217.10C67.90,215.82 68.02,214.68 68.50,213.60C68.98,212.52 69.92,211.48 70.80,210.60C71.68,209.72 72.72,209.08 73.80,208.30C74.88,207.52 76.12,206.50 77.30,205.90C78.48,205.30 79.72,204.90 80.90,204.70C82.08,204.50 83.13,204.40 84.40,204.70C85.67,205.00 87.22,205.70 88.50,206.50C89.78,207.30 90.93,208.08 92.10,209.50C93.27,210.92 94.72,213.53 95.50,215.00C96.28,216.47 96.85,218.63 96.80,218.30C96.75,217.97 95.60,215.05 95.20,213.00C94.80,210.95 94.33,207.87 94.40,206.00C94.47,204.13 94.92,203.58 95.60,201.80C96.28,200.02 97.03,196.48 98.50,195.30Z" fill="none" stroke="#35a035" stroke-width="1.6" stroke-dasharray="5.8 2.4 1.2 2.4" stroke-linejoin="round"/><path d="M261.00,162.30C263.27,162.30 265.43,162.47 267.90,162.90C270.37,163.33 273.17,163.82 275.80,164.90C278.43,165.98 281.23,167.60 283.70,169.40C286.17,171.20 288.45,173.33 290.60,175.70C292.75,178.07 294.78,180.80 296.60,183.60C298.42,186.40 300.18,189.53 301.50,192.50C302.82,195.47 303.78,198.27 304.50,201.40C305.22,204.53 305.55,208.53 305.80,211.30C306.05,214.07 306.05,215.57 306.00,218.00C305.95,220.43 306.08,223.10 305.50,225.90C304.92,228.70 303.83,232.00 302.50,234.80C301.17,237.60 299.65,240.40 297.50,242.70C295.35,245.00 292.55,246.95 289.60,248.60C286.65,250.25 283.08,251.67 279.80,252.60C276.52,253.53 273.03,253.93 269.90,254.20C266.77,254.47 263.93,254.77 261.00,254.20C258.07,253.63 254.90,252.05 252.30,250.80C249.70,249.55 247.70,248.22 245.40,246.70C243.10,245.18 240.80,243.52 238.50,241.70C236.20,239.88 233.75,237.93 231.60,235.80C229.45,233.67 227.25,231.05 225.60,228.90C223.95,226.75 222.68,224.72 221.70,222.90C220.72,221.08 220.20,219.93 219.70,218.00C219.20,216.07 218.80,214.07 218.70,211.30C218.60,208.53 218.60,204.70 219.10,201.40C219.60,198.10 220.62,194.62 221.70,191.50C222.78,188.38 223.95,185.48 225.60,182.70C227.25,179.92 229.45,177.12 231.60,174.80C233.75,172.48 236.03,170.45 238.50,168.80C240.97,167.15 243.77,165.88 246.40,164.90C249.03,163.92 251.87,163.33 254.30,162.90C256.73,162.47 258.73,162.30 261.00,162.30Z" fill="none" stroke="#1010ff" stroke-width="1.8" stroke-linejoin="round"/><path d="M261.00,164.00C263.27,163.90 265.43,163.92 267.90,164.30C270.37,164.68 273.23,165.22 275.80,166.30C278.37,167.38 281.00,168.97 283.30,170.80C285.60,172.63 287.62,174.90 289.60,177.30C291.58,179.70 293.55,182.50 295.20,185.20C296.85,187.90 298.28,190.63 299.50,193.50C300.72,196.37 301.77,199.43 302.50,202.40C303.23,205.37 303.57,208.70 303.90,211.30C304.23,213.90 304.57,215.57 304.50,218.00C304.43,220.43 304.17,223.27 303.50,225.90C302.83,228.53 301.82,231.50 300.50,233.80C299.18,236.10 297.42,237.72 295.60,239.70C293.78,241.68 291.92,244.05 289.60,245.70C287.28,247.35 284.00,248.95 281.70,249.60C279.40,250.25 277.60,249.93 275.80,249.60C274.00,249.27 272.38,247.60 270.90,247.60C269.42,247.60 268.22,248.77 266.90,249.60C265.58,250.43 264.45,251.87 263.00,252.60C261.55,253.33 259.82,253.63 258.20,254.00C256.58,254.37 254.93,254.80 253.30,254.80C251.67,254.80 249.88,254.53 248.40,254.00C246.92,253.47 245.57,252.82 244.40,251.60C243.23,250.38 242.72,248.02 241.40,246.70C240.08,245.38 238.13,244.70 236.50,243.70C234.87,242.70 233.08,241.68 231.60,240.70C230.12,239.72 228.92,239.28 227.60,237.80C226.28,236.32 224.85,234.12 223.70,231.80C222.55,229.48 221.27,226.20 220.70,223.90C220.13,221.60 220.37,220.10 220.30,218.00C220.23,215.90 220.13,213.90 220.30,211.30C220.47,208.70 220.73,205.37 221.30,202.40C221.87,199.43 222.75,196.30 223.70,193.50C224.65,190.70 225.53,188.23 227.00,185.60C228.47,182.97 230.42,180.10 232.50,177.70C234.58,175.30 237.18,172.95 239.50,171.20C241.82,169.45 243.93,168.25 246.40,167.20C248.87,166.15 251.87,165.43 254.30,164.90C256.73,164.37 258.73,164.10 261.00,164.00Z" fill="none" stroke="#000" stroke-width="1.6" stroke-dasharray="2.5 1.4" stroke-linejoin="round"/><path d="M248.70,195.20C249.55,194.33 251.42,193.85 252.80,194.20C254.18,194.55 255.27,196.78 257.00,197.30C258.73,197.82 261.48,196.97 263.20,197.30C264.92,197.63 266.27,198.10 267.30,199.30C268.33,200.50 268.02,203.47 269.40,204.50C270.78,205.53 273.53,205.15 275.60,205.50C277.67,205.85 280.08,205.92 281.80,206.60C283.52,207.28 284.87,208.07 285.90,209.60C286.93,211.13 287.62,213.73 288.00,215.80C288.38,217.87 288.33,220.05 288.20,222.00C288.07,223.95 287.85,225.67 287.20,227.50C286.55,229.33 285.53,231.62 284.30,233.00C283.07,234.38 281.43,235.30 279.80,235.80C278.17,236.30 275.72,235.13 274.50,236.00C273.28,236.87 273.02,239.25 272.50,241.00C271.98,242.75 272.43,245.53 271.40,246.50C270.37,247.47 268.02,247.08 266.30,246.80C264.58,246.52 262.48,245.83 261.10,244.80C259.72,243.77 258.68,242.50 258.00,240.60C257.32,238.70 257.00,235.47 257.00,233.40C257.00,231.33 257.67,229.75 258.00,228.20C258.33,226.65 259.15,224.47 259.00,224.10C258.85,223.73 258.20,225.38 257.10,226.00C256.00,226.62 253.97,227.32 252.40,227.80C250.83,228.28 249.07,228.82 247.70,228.90C246.33,228.98 245.18,228.88 244.20,228.30C243.22,227.72 242.40,226.57 241.80,225.40C241.20,224.23 241.18,222.48 240.60,221.30C240.02,220.12 238.98,219.38 238.30,218.30C237.62,217.22 236.70,215.98 236.50,214.80C236.30,213.62 236.62,212.38 237.10,211.20C237.58,210.02 238.42,208.68 239.40,207.70C240.38,206.72 241.82,205.60 243.00,205.30C244.18,205.00 245.62,206.08 246.50,205.90C247.38,205.72 248.10,205.28 248.30,204.20C248.50,203.12 247.63,200.90 247.70,199.40C247.77,197.90 247.85,196.07 248.70,195.20Z" fill="none" stroke="#ee2222" stroke-width="1.7" stroke-dasharray="5.4 2.9" stroke-linejoin="round"/><path d="M262.10,198.30C263.95,197.75 267.15,197.30 269.40,197.30C271.65,197.30 273.53,197.45 275.60,198.30C277.67,199.15 280.08,200.68 281.80,202.40C283.52,204.12 284.87,206.02 285.90,208.60C286.93,211.18 287.73,214.92 288.00,217.90C288.27,220.88 288.17,223.82 287.50,226.50C286.83,229.18 285.50,231.88 284.00,234.00C282.50,236.12 280.42,237.75 278.50,239.20C276.58,240.65 274.42,241.82 272.50,242.70C270.58,243.58 268.67,244.45 267.00,244.50C265.33,244.55 263.65,243.82 262.50,243.00C261.35,242.18 260.68,241.20 260.10,239.60C259.52,238.00 259.07,235.63 259.00,233.40C258.93,231.17 259.52,228.10 259.70,226.20C259.88,224.30 260.38,221.70 260.10,222.00C259.82,222.30 259.22,226.27 258.00,228.00C256.78,229.73 254.70,231.67 252.80,232.40C250.90,233.13 248.32,232.75 246.60,232.40C244.88,232.05 243.60,231.52 242.50,230.30C241.40,229.08 240.37,226.73 240.00,225.10C239.63,223.47 240.10,222.02 240.30,220.50C240.50,218.98 240.55,217.45 241.20,216.00C241.85,214.55 242.92,213.18 244.20,211.80C245.48,210.42 247.33,208.97 248.90,207.70C250.47,206.43 252.03,205.38 253.60,204.20C255.17,203.02 256.88,201.58 258.30,200.60C259.72,199.62 260.25,198.85 262.10,198.30Z" fill="none" stroke="#35a035" stroke-width="1.6" stroke-dasharray="5.8 2.4 1.2 2.4" stroke-linejoin="round"/><path d="M440.50,221.30C439.63,221.88 437.32,223.92 435.30,224.80C433.28,225.68 430.87,226.42 428.40,226.60C425.93,226.78 422.95,226.50 420.50,225.90C418.05,225.30 415.57,224.22 413.70,223.00C411.83,221.78 410.63,220.22 409.30,218.60C407.97,216.98 406.67,215.22 405.70,213.30C404.73,211.38 404.00,209.48 403.50,207.10C403.00,204.72 402.50,201.92 402.70,199.00C402.90,196.08 403.82,192.48 404.70,189.60C405.58,186.72 406.53,184.17 408.00,181.70C409.47,179.23 411.58,176.78 413.50,174.80C415.42,172.82 417.18,171.28 419.50,169.80C421.82,168.32 424.77,166.88 427.40,165.90C430.03,164.92 432.93,164.33 435.30,163.90C437.67,163.47 439.50,163.30 441.60,163.30C443.70,163.30 445.53,163.47 447.90,163.90C450.27,164.33 453.33,164.92 455.80,165.90C458.27,166.88 460.55,168.32 462.70,169.80C464.85,171.28 466.88,172.82 468.70,174.80C470.52,176.78 472.13,179.23 473.60,181.70C475.07,184.17 476.35,186.97 477.50,189.60C478.65,192.23 479.73,194.87 480.50,197.50C481.27,200.13 481.93,202.77 482.10,205.40C482.27,208.03 481.93,211.12 481.50,213.30C481.07,215.48 480.32,216.42 479.50,218.50C478.68,220.58 477.42,223.43 476.60,225.80C475.78,228.17 475.10,230.40 474.60,232.70C474.10,235.00 474.10,237.28 473.60,239.60C473.10,241.92 472.58,244.45 471.60,246.60C470.62,248.75 469.35,250.77 467.70,252.50C466.05,254.23 464.02,255.85 461.70,257.00C459.38,258.15 456.43,259.10 453.80,259.40C451.17,259.70 448.17,259.13 445.90,258.80C443.63,258.47 441.97,258.12 440.20,257.40C438.43,256.68 436.78,255.82 435.30,254.50C433.82,253.18 432.28,251.15 431.30,249.50C430.32,247.85 429.72,246.57 429.40,244.60C429.08,242.63 429.08,239.85 429.40,237.70C429.72,235.55 430.32,233.52 431.30,231.70C432.28,229.88 433.77,228.53 435.30,226.80C436.83,225.07 439.63,222.22 440.50,221.30" fill="none" stroke="#1010ff" stroke-width="1.8" stroke-linejoin="round"/><path d="M441.60,165.00C443.70,164.93 445.53,165.08 447.90,165.50C450.27,165.92 453.23,166.52 455.80,167.50C458.37,168.48 461.00,169.80 463.30,171.40C465.60,173.00 467.62,174.90 469.60,177.10C471.58,179.30 473.62,182.03 475.20,184.60C476.78,187.17 477.98,189.85 479.10,192.50C480.22,195.15 481.23,197.85 481.90,200.50C482.57,203.15 482.80,205.77 483.10,208.40C483.40,211.03 483.67,214.37 483.70,216.30C483.73,218.23 483.67,218.42 483.30,220.00C482.93,221.58 482.30,223.68 481.50,225.80C480.70,227.92 479.48,230.55 478.50,232.70C477.52,234.85 476.92,237.05 475.60,238.70C474.28,240.35 472.25,241.45 470.60,242.60C468.95,243.75 467.33,244.62 465.70,245.60C464.07,246.58 462.62,247.35 460.80,248.50C458.98,249.65 456.45,251.83 454.80,252.50C453.15,253.17 452.38,252.17 450.90,252.50C449.42,252.83 447.38,253.68 445.90,254.50C444.42,255.32 442.95,257.40 442.00,257.40C441.05,257.40 440.67,255.98 440.20,254.50C439.73,253.02 439.52,250.15 439.20,248.50C438.88,246.85 438.78,245.58 438.30,244.60C437.82,243.62 437.13,242.50 436.30,242.60C435.47,242.70 434.62,244.38 433.30,245.20C431.98,246.02 430.05,246.95 428.40,247.50C426.75,248.05 425.05,248.50 423.40,248.50C421.75,248.50 419.48,248.15 418.50,247.50C417.52,246.85 417.00,245.58 417.50,244.60C418.00,243.62 419.52,243.25 421.50,241.60C423.48,239.95 428.58,235.52 429.40,234.70C430.22,233.88 427.88,236.20 426.40,236.70C424.92,237.20 422.65,237.70 420.50,237.70C418.35,237.70 415.72,237.48 413.50,236.70C411.28,235.92 408.92,234.78 407.20,233.00C405.48,231.22 404.15,228.52 403.20,226.00C402.25,223.48 401.75,220.57 401.50,217.90C401.25,215.23 401.60,212.15 401.70,210.00C401.80,207.85 401.83,206.75 402.10,205.00C402.37,203.25 402.72,201.73 403.30,199.50C403.88,197.27 404.55,194.23 405.60,191.60C406.65,188.97 408.12,186.18 409.60,183.70C411.08,181.22 412.68,178.68 414.50,176.70C416.32,174.72 418.35,173.28 420.50,171.80C422.65,170.32 424.93,168.78 427.40,167.80C429.87,166.82 432.93,166.37 435.30,165.90C437.67,165.43 439.50,165.07 441.60,165.00Z" fill="none" stroke="#000" stroke-width="1.6" stroke-dasharray="2.5 1.4" stroke-linejoin="round"/><path d="M434.80,215.80C435.58,214.95 436.45,213.87 437.40,213.30C438.35,212.73 439.55,212.32 440.50,212.40C441.45,212.48 442.25,213.13 443.10,213.80C443.95,214.47 444.67,215.72 445.60,216.40C446.53,217.08 447.92,217.05 448.70,217.90C449.48,218.75 450.20,220.30 450.30,221.50C450.40,222.70 449.98,224.23 449.30,225.10C448.62,225.97 447.15,226.30 446.20,226.70C445.25,227.10 444.03,226.98 443.60,227.50C443.17,228.02 443.95,229.17 443.60,229.80C443.25,230.43 442.10,231.38 441.50,231.30C440.90,231.22 440.43,230.25 440.00,229.30C439.57,228.35 439.17,226.63 438.90,225.60C438.63,224.57 438.92,223.78 438.40,223.10C437.88,222.42 436.75,222.28 435.80,221.50C434.85,220.72 432.87,219.35 432.70,218.40C432.53,217.45 434.02,216.65 434.80,215.80Z" fill="none" stroke="#ee2222" stroke-width="1.7" stroke-dasharray="5.4 2.9" stroke-linejoin="round"/><path d="M603.60,163.30C605.70,163.33 607.53,163.47 609.90,163.90C612.27,164.33 615.17,164.92 617.80,165.90C620.43,166.88 623.23,168.15 625.70,169.80C628.17,171.45 630.45,173.65 632.60,175.80C634.75,177.95 636.78,180.23 638.60,182.70C640.42,185.17 642.08,187.80 643.50,190.60C644.92,193.40 646.18,196.53 647.10,199.50C648.02,202.47 648.62,205.60 649.00,208.40C649.38,211.20 649.40,214.37 649.40,216.30C649.40,218.23 649.32,218.25 649.00,220.00C648.68,221.75 648.42,224.18 647.50,226.80C646.58,229.42 645.15,232.90 643.50,235.70C641.85,238.50 639.90,241.13 637.60,243.60C635.30,246.07 632.50,248.50 629.70,250.50C626.90,252.50 623.77,254.38 620.80,255.60C617.83,256.82 614.77,257.33 611.90,257.80C609.03,258.27 606.03,258.40 603.60,258.40C601.17,258.40 599.67,258.22 597.30,257.80C594.93,257.38 592.20,256.95 589.40,255.90C586.60,254.85 583.47,253.38 580.50,251.50C577.53,249.62 574.23,247.12 571.60,244.60C568.97,242.08 566.68,239.30 564.70,236.40C562.72,233.50 560.92,230.28 559.70,227.20C558.48,224.12 557.92,220.38 557.40,217.90C556.88,215.42 556.60,214.72 556.60,212.30C556.60,209.88 556.95,206.37 557.40,203.40C557.85,200.43 558.42,197.30 559.30,194.50C560.18,191.70 561.32,189.17 562.70,186.60C564.08,184.03 565.62,181.40 567.60,179.10C569.58,176.80 572.28,174.58 574.60,172.80C576.92,171.02 579.03,169.65 581.50,168.40C583.97,167.15 586.77,166.08 589.40,165.30C592.03,164.52 594.93,164.03 597.30,163.70C599.67,163.37 601.50,163.27 603.60,163.30Z" fill="none" stroke="#1010ff" stroke-width="1.8" stroke-linejoin="round"/><path d="M603.60,165.00C605.70,164.93 607.53,165.12 609.90,165.50C612.27,165.88 615.23,166.35 617.80,167.30C620.37,168.25 622.93,169.57 625.30,171.20C627.67,172.83 629.95,174.93 632.00,177.10C634.05,179.27 635.92,181.68 637.60,184.20C639.28,186.72 640.85,189.48 642.10,192.20C643.35,194.92 644.27,197.65 645.10,200.50C645.93,203.35 646.65,206.50 647.10,209.30C647.55,212.10 647.90,214.55 647.80,217.30C647.70,220.05 647.22,223.23 646.50,225.80C645.78,228.37 644.82,230.40 643.50,232.70C642.18,235.00 640.58,237.95 638.60,239.60C636.62,241.25 633.42,241.60 631.60,242.60C629.78,243.60 629.33,244.28 627.70,245.60C626.07,246.92 623.78,249.35 621.80,250.50C619.82,251.65 617.03,252.30 615.80,252.50C614.57,252.70 615.15,251.58 614.40,251.70C613.65,251.82 612.33,252.43 611.30,253.20C610.27,253.97 609.15,255.52 608.20,256.30C607.25,257.08 606.47,257.73 605.60,257.90C604.73,258.07 603.60,257.82 603.00,257.30C602.40,256.78 602.33,255.92 602.00,254.80C601.67,253.68 601.35,251.98 601.00,250.60C600.65,249.22 600.42,247.43 599.90,246.50C599.38,245.57 598.75,245.08 597.90,245.00C597.05,244.92 596.02,245.67 594.80,246.00C593.58,246.33 591.98,246.57 590.60,247.00C589.22,247.43 588.03,248.25 586.50,248.60C584.97,248.95 582.87,249.10 581.40,249.10C579.93,249.10 578.40,249.20 577.70,248.60C577.00,248.00 577.80,246.53 577.20,245.50C576.60,244.47 575.22,243.42 574.10,242.40C572.98,241.38 571.90,240.85 570.50,239.40C569.10,237.95 567.17,235.97 565.70,233.70C564.23,231.43 562.70,228.43 561.70,225.80C560.70,223.17 560.10,220.20 559.70,217.90C559.30,215.60 559.23,214.08 559.30,212.00C559.37,209.92 559.63,207.92 560.10,205.40C560.57,202.88 561.23,199.63 562.10,196.90C562.97,194.17 564.05,191.53 565.30,189.00C566.55,186.47 567.90,183.97 569.60,181.70C571.30,179.43 573.35,177.22 575.50,175.40C577.65,173.58 580.18,172.12 582.50,170.80C584.82,169.48 586.93,168.32 589.40,167.50C591.87,166.68 594.93,166.32 597.30,165.90C599.67,165.48 601.50,165.07 603.60,165.00Z" fill="none" stroke="#000" stroke-width="1.6" stroke-dasharray="2.5 1.4" stroke-linejoin="round"/><path d="M603.80,202.40C605.17,202.35 605.45,201.35 606.80,200.90C608.15,200.45 610.18,199.75 611.90,199.70C613.62,199.65 615.50,199.92 617.10,200.60C618.70,201.28 620.40,202.40 621.50,203.80C622.60,205.20 623.20,207.27 623.70,209.00C624.20,210.73 624.62,212.35 624.50,214.20C624.38,216.05 623.62,218.27 623.00,220.10C622.38,221.93 621.67,223.60 620.80,225.20C619.93,226.80 619.03,228.58 617.80,229.70C616.57,230.82 614.87,231.67 613.40,231.90C611.93,232.13 610.35,231.60 609.00,231.10C607.65,230.60 606.28,229.63 605.30,228.90C604.32,228.17 603.72,226.82 603.10,226.70C602.48,226.58 602.10,227.10 601.60,228.20C601.10,229.30 600.83,231.70 600.10,233.30C599.37,234.90 598.18,236.93 597.20,237.80C596.22,238.67 595.07,239.00 594.20,238.50C593.33,238.00 592.73,236.15 592.00,234.80C591.27,233.45 590.90,231.38 589.80,230.40C588.70,229.42 586.38,229.77 585.40,228.90C584.42,228.03 584.23,226.52 583.90,225.20C583.57,223.88 583.52,222.35 583.40,221.00C583.28,219.65 583.37,218.60 583.20,217.10C583.03,215.60 582.28,213.72 582.40,212.00C582.52,210.28 583.03,208.40 583.90,206.80C584.77,205.20 586.13,203.43 587.60,202.40C589.07,201.37 590.87,200.80 592.70,200.60C594.53,200.40 596.75,200.90 598.60,201.20C600.45,201.50 602.43,202.45 603.80,202.40Z" fill="none" stroke="#ee2222" stroke-width="1.7" stroke-dasharray="5.4 2.9" stroke-linejoin="round"/><path d="M603.10,217.10C603.83,216.98 604.32,213.60 605.30,212.00C606.28,210.40 607.65,208.42 609.00,207.50C610.35,206.58 612.13,206.37 613.40,206.50C614.67,206.63 615.73,207.27 616.60,208.30C617.47,209.33 618.27,210.98 618.60,212.70C618.93,214.42 618.73,216.63 618.60,218.60C618.47,220.57 618.30,222.53 617.80,224.50C617.30,226.47 616.58,229.05 615.60,230.40C614.62,231.75 613.13,232.48 611.90,232.60C610.67,232.72 609.30,231.83 608.20,231.10C607.10,230.37 606.03,229.42 605.30,228.20C604.57,226.98 604.17,225.03 603.80,223.80C603.43,222.57 603.35,220.68 603.10,220.80C602.85,220.92 602.80,223.02 602.30,224.50C601.80,225.98 600.95,228.35 600.10,229.70C599.25,231.05 598.30,232.12 597.20,232.60C596.10,233.08 594.62,233.33 593.50,232.60C592.38,231.87 591.23,229.92 590.50,228.20C589.77,226.48 589.47,224.27 589.10,222.30C588.73,220.33 588.43,218.37 588.30,216.40C588.17,214.43 587.93,212.10 588.30,210.50C588.67,208.90 589.52,207.53 590.50,206.80C591.48,206.07 592.97,205.85 594.20,206.10C595.43,206.35 596.78,207.20 597.90,208.30C599.02,209.40 600.03,211.23 600.90,212.70C601.77,214.17 602.37,217.22 603.10,217.10Z" fill="none" stroke="#35a035" stroke-width="1.6" stroke-dasharray="5.8 2.4 1.2 2.4" stroke-linejoin="round"/><circle cx="436.6" cy="243.4" r="1.6" fill="#000"/><circle cx="597.9" cy="245.0" r="1.6" fill="#000"/><circle cx="437.8" cy="246.0" r="0.9" fill="#000"/><g stroke="#333" stroke-width="0.8"><line x1="17.6" y1="10.5" x2="17.6" y2="139.3"/><line x1="15.3" y1="10.50" x2="17.6" y2="10.50"/><line x1="16.3" y1="18.55" x2="17.6" y2="18.55"/><line x1="15.3" y1="26.60" x2="17.6" y2="26.60"/><line x1="16.3" y1="34.65" x2="17.6" y2="34.65"/><line x1="15.3" y1="42.70" x2="17.6" y2="42.70"/><line x1="16.3" y1="50.75" x2="17.6" y2="50.75"/><line x1="15.3" y1="58.80" x2="17.6" y2="58.80"/><line x1="16.3" y1="66.85" x2="17.6" y2="66.85"/><line x1="15.3" y1="74.90" x2="17.6" y2="74.90"/><line x1="16.3" y1="82.95" x2="17.6" y2="82.95"/><line x1="15.3" y1="91.00" x2="17.6" y2="91.00"/><line x1="16.3" y1="99.05" x2="17.6" y2="99.05"/><line x1="15.3" y1="107.10" x2="17.6" y2="107.10"/><line x1="16.3" y1="115.15" x2="17.6" y2="115.15"/><line x1="15.3" y1="123.20" x2="17.6" y2="123.20"/><line x1="16.3" y1="131.25" x2="17.6" y2="131.25"/><line x1="15.3" y1="139.30" x2="17.6" y2="139.30"/></g><g font-family='"Liberation Serif", serif' font-size="7.3" fill="#000" stroke="#000" stroke-width="0.15" text-anchor="middle"><text x="6.90" y="12.95">10</text><text x="6.90" y="29.05">0</text><text x="6.90" y="45.15">-10</text><text x="6.90" y="61.25">-20</text><text x="6.90" y="77.35">-30</text><text x="6.90" y="93.45">-20</text><text x="6.90" y="109.55">-10</text><text x="6.90" y="125.65">0</text><text x="6.90" y="141.75">10</text></g><g stroke="#333" stroke-width="0.8"><line x1="17.4" y1="154.5" x2="17.4" y2="283.8"/><line x1="15.099999999999998" y1="154.50" x2="17.4" y2="154.50"/><line x1="16.099999999999998" y1="162.58" x2="17.4" y2="162.58"/><line x1="15.099999999999998" y1="170.66" x2="17.4" y2="170.66"/><line x1="16.099999999999998" y1="178.74" x2="17.4" y2="178.74"/><line x1="15.099999999999998" y1="186.82" x2="17.4" y2="186.82"/><line x1="16.099999999999998" y1="194.91" x2="17.4" y2="194.91"/><line x1="15.099999999999998" y1="202.99" x2="17.4" y2="202.99"/><line x1="16.099999999999998" y1="211.07" x2="17.4" y2="211.07"/><line x1="15.099999999999998" y1="219.15" x2="17.4" y2="219.15"/><line x1="16.099999999999998" y1="227.23" x2="17.4" y2="227.23"/><line x1="15.099999999999998" y1="235.31" x2="17.4" y2="235.31"/><line x1="16.099999999999998" y1="243.39" x2="17.4" y2="243.39"/><line x1="15.099999999999998" y1="251.48" x2="17.4" y2="251.48"/><line x1="16.099999999999998" y1="259.56" x2="17.4" y2="259.56"/><line x1="15.099999999999998" y1="267.64" x2="17.4" y2="267.64"/><line x1="16.099999999999998" y1="275.72" x2="17.4" y2="275.72"/><line x1="15.099999999999998" y1="283.80" x2="17.4" y2="283.80"/></g><g font-family='"Liberation Serif", serif' font-size="7.3" fill="#000" stroke="#000" stroke-width="0.15" text-anchor="middle"><text x="6.70" y="156.95">10</text><text x="6.70" y="173.11">0</text><text x="6.70" y="189.27">-10</text><text x="6.70" y="205.44">-20</text><text x="6.70" y="221.60">-30</text><text x="6.70" y="237.76">-20</text><text x="6.70" y="253.93">-10</text><text x="6.70" y="270.09">0</text><text x="6.70" y="286.25">10</text></g><g stroke="#333" stroke-width="0.8"><line x1="362.3" y1="156.4" x2="362.3" y2="284.4"/><line x1="360.0" y1="156.40" x2="362.3" y2="156.40"/><line x1="361.0" y1="164.40" x2="362.3" y2="164.40"/><line x1="360.0" y1="172.40" x2="362.3" y2="172.40"/><line x1="361.0" y1="180.40" x2="362.3" y2="180.40"/><line x1="360.0" y1="188.40" x2="362.3" y2="188.40"/><line x1="361.0" y1="196.40" x2="362.3" y2="196.40"/><line x1="360.0" y1="204.40" x2="362.3" y2="204.40"/><line x1="361.0" y1="212.40" x2="362.3" y2="212.40"/><line x1="360.0" y1="220.40" x2="362.3" y2="220.40"/><line x1="361.0" y1="228.40" x2="362.3" y2="228.40"/><line x1="360.0" y1="236.40" x2="362.3" y2="236.40"/><line x1="361.0" y1="244.40" x2="362.3" y2="244.40"/><line x1="360.0" y1="252.40" x2="362.3" y2="252.40"/><line x1="361.0" y1="260.40" x2="362.3" y2="260.40"/><line x1="360.0" y1="268.40" x2="362.3" y2="268.40"/><line x1="361.0" y1="276.40" x2="362.3" y2="276.40"/><line x1="360.0" y1="284.40" x2="362.3" y2="284.40"/></g><g font-family='"Liberation Serif", serif' font-size="7.3" fill="#000" stroke="#000" stroke-width="0.15" text-anchor="middle"><text x="351.60" y="158.85">10</text><text x="351.60" y="174.85">0</text><text x="351.60" y="190.85">-10</text><text x="351.60" y="206.85">-20</text><text x="351.60" y="222.85">-30</text><text x="351.60" y="238.85">-20</text><text x="351.60" y="254.85">-10</text><text x="351.60" y="270.85">0</text><text x="351.60" y="286.85">10</text></g><text x="17.9" y="16.9" font-family='"Liberation Serif", serif' font-size="10" fill="#000" stroke="#000" stroke-width="0.2">(dB<tspan font-size="5.8" dx="0.5" dy="2.0">ic</tspan><tspan dx="0.4" dy="-2.0">)</tspan></text><text x="17.7" y="161.2" font-family='"Liberation Serif", serif' font-size="10" fill="#000" stroke="#000" stroke-width="0.2">(dB<tspan font-size="5.8" dx="0.5" dy="2.0">ic</tspan><tspan dx="0.4" dy="-2.0">)</tspan></text><text x="364.6" y="163.2" font-family='"Liberation Serif", serif' font-size="10" fill="#000" stroke="#000" stroke-width="0.2">(dB<tspan font-size="5.8" dx="0.5" dy="2.0">i</tspan><tspan dx="0.4" dy="-2.0">)</tspan></text><rect x="66.3" y="284.3" width="61.10000000000001" height="14.899999999999977" fill="#fff" stroke="#444" stroke-width="0.8"/><text x="96.85" y="294.59999999999997" font-family='"Liberation Serif", serif' font-style="italic" font-size="10.6" fill="#000" stroke="#000" stroke-width="0.18" text-anchor="middle">x-z plane</text><rect x="230.0" y="284.3" width="61.5" height="14.899999999999977" fill="#fff" stroke="#444" stroke-width="0.8"/><text x="260.75" y="294.59999999999997" font-family='"Liberation Serif", serif' font-style="italic" font-size="10.6" fill="#000" stroke="#000" stroke-width="0.18" text-anchor="middle">y-z plane</text><rect x="411.0" y="284.5" width="60.39999999999998" height="14.899999999999977" fill="#fff" stroke="#444" stroke-width="0.8"/><text x="441.2" y="294.79999999999995" font-family='"Liberation Serif", serif' font-style="italic" font-size="10.6" fill="#000" stroke="#000" stroke-width="0.18" text-anchor="middle">E-plane</text><rect x="573.5" y="284.5" width="60.799999999999955" height="14.899999999999977" fill="#fff" stroke="#444" stroke-width="0.8"/><text x="603.9" y="294.79999999999995" font-family='"Liberation Serif", serif' font-style="italic" font-size="10.6" fill="#000" stroke="#000" stroke-width="0.18" text-anchor="middle">H-plane</text><line x1="5.0" y1="308.8" x2="29.5" y2="308.8" fill="none" stroke="#000" stroke-width="1.6" stroke-dasharray="2.5 1.4"/><text x="32.8" y="311.9" font-family='"Liberation Serif", serif' font-size="10" fill="#000" stroke="#000" stroke-width="0.22">LHCP (mea.)</text><line x1="88.1" y1="308.8" x2="111.9" y2="308.8" fill="none" stroke="#1010ff" stroke-width="1.8"/><text x="113.6" y="311.9" font-family='"Liberation Serif", serif' font-size="10" fill="#000" stroke="#000" stroke-width="0.22">LHCP (sim.)</text><line x1="166.9" y1="308.8" x2="190.2" y2="308.8" fill="none" stroke="#ee2222" stroke-width="1.7" stroke-dasharray="5.4 2.9"/><text x="193.6" y="311.9" font-family='"Liberation Serif", serif' font-size="10" fill="#000" stroke="#000" stroke-width="0.22">RHCP (mea.)</text><line x1="252.9" y1="308.8" x2="275.6" y2="308.8" fill="none" stroke="#35a035" stroke-width="1.6" stroke-dasharray="5.8 2.4 1.2 2.4"/><text x="279.5" y="311.9" font-family='"Liberation Serif", serif' font-size="10" fill="#000" stroke="#000" stroke-width="0.22">RHCP (sim.)</text><line x1="355.7" y1="308.8" x2="377.7" y2="308.8" fill="none" stroke="#000" stroke-width="1.6" stroke-dasharray="2.5 1.4"/><text x="380.8" y="311.9" font-family='"Liberation Serif", serif' font-size="10" fill="#000" stroke="#000" stroke-width="0.22">Co-pol. (mea.)</text><line x1="441.6" y1="308.8" x2="463.0" y2="308.8" fill="none" stroke="#1010ff" stroke-width="1.8"/><text x="466.4" y="311.9" font-family='"Liberation Serif", serif' font-size="10" fill="#000" stroke="#000" stroke-width="0.22">Co-pol. (sim.)</text><line x1="524.8" y1="308.8" x2="547.8" y2="308.8" fill="none" stroke="#ee2222" stroke-width="1.7" stroke-dasharray="5.4 2.9"/><text x="548.8" y="311.9" font-family='"Liberation Serif", serif' font-size="10" fill="#000" stroke="#000" stroke-width="0.22">X-pol. (mea.)</text><line x1="607.0" y1="308.8" x2="628.0" y2="308.8" fill="none" stroke="#35a035" stroke-width="1.6" stroke-dasharray="5.8 2.4 1.2 2.4"/><text x="631.4" y="311.9" font-family='"Liberation Serif", serif' font-size="10" fill="#000" stroke="#000" stroke-width="0.22">X-pol. (sim.)</text><text x="163.5" y="334.9" font-family='"Liberation Serif", serif' font-size="12" fill="#000" stroke="#000" stroke-width="0.2">(a)</text><text x="508.4" y="334.9" font-family='"Liberation Serif", serif' font-size="12" fill="#000" stroke="#000" stroke-width="0.2">(b)</text></svg>
</body></html>
